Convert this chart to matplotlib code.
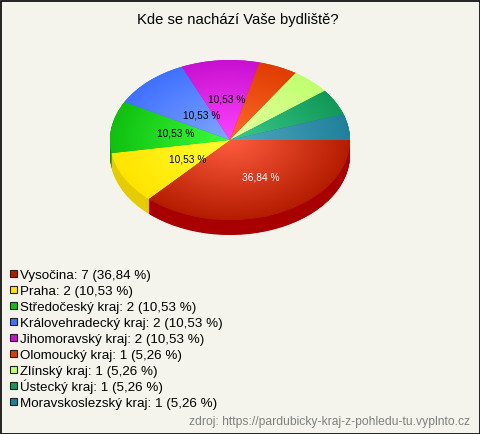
#!/usr/bin/env python
# -*- coding: utf-8 -*-

import matplotlib
matplotlib.use("Agg")
import matplotlib.pyplot as plt
from matplotlib.colors import LinearSegmentedColormap
from matplotlib.patches import Rectangle
import numpy as np

regions = ["Vysočina", "Praha", "Středočeský kraj", "Královehradecký kraj", "Jihomoravský kraj",
           "Olomoucký kraj", "Zlínský kraj", "Ústecký kraj", "Moravskoslezský kraj"]
counts = [7, 2, 2, 2, 2, 1, 1, 1, 1]
percents = ["36,84", "10,53", "10,53", "10,53", "10,53", "5,26", "5,26", "5,26", "5,26"]

inner_colors = ["#ff5c3e", "#ffff30", "#3cff3c", "#80a8ff", "#ff44ff", "#ff6a2c", "#e4ffa0", "#3cca8c", "#52a8c2"]
outer_colors = ["#b41c00", "#ffe400", "#10c010", "#4070ff", "#c810d0", "#e03c00", "#c0ff70", "#109858", "#20809a"]
side_colors = ["#a80000", "#e5cc00", "#0c8a0c", "#3058cc", "#a00ca6", "#b03000", "#98cc58", "#0c7a46", "#18667a"]

W, H = 480, 434
CX, CY, RX, RY, DEPTH = 230, 140, 120, 80, 15

plt.rcParams["font.family"] = ["Liberation Sans", "DejaVu Sans"]
BG = "#f4f4ec"

fig = plt.figure(figsize=(W / 100, H / 100), dpi=100, facecolor=BG)

# Pie axes: one data unit is RX px across and RY px down, so the circle turns into an ellipse.
ax = fig.add_axes([0, 0, 1, 1])

# Side of the pie, stacked layers of the same pie shifted down.
for d in np.arange(DEPTH, 0, -0.5):
    ax.pie(counts, colors=side_colors, center=(0, -d / RY), startangle=0, counterclock=False,
           radius=1, wedgeprops={"linewidth": 0})

# Top face with a radial gradient per slice.
wedges, _ = ax.pie(counts, colors=outer_colors, startangle=0, counterclock=False,
                   radius=1, wedgeprops={"linewidth": 0})
ax.set_aspect("auto")
ax.set_xlim(-CX / RX, (W - CX) / RX)
ax.set_ylim(-(H - CY) / RY, CY / RY)

gx, gy = np.meshgrid(np.linspace(-1.02, 1.02, 300), np.linspace(-1.02, 1.02, 300))
dist = np.clip(np.hypot(gx, gy), 0, 1)
for wedge, c0, c1 in zip(wedges, inner_colors, outer_colors):
    cmap = LinearSegmentedColormap.from_list("slice", [c0, c1])
    im = ax.imshow(dist, extent=(-1.02, 1.02, -1.02, 1.02), origin="lower", cmap=cmap,
                   vmin=0, vmax=1, aspect="auto", interpolation="bilinear", zorder=3)
    im.set_clip_path(wedge)
ax.set_xlim(-CX / RX, (W - CX) / RX)
ax.set_ylim(-(H - CY) / RY, CY / RY)
ax.axis("off")

# Overlay in pixel coordinates for the texts and the frame.
px = fig.add_axes([0, 0, 1, 1])
px.set_xlim(0, W)
px.set_ylim(H, 0)
px.axis("off")
px.patch.set_alpha(0)

px.text(237.5, 20, "Kde se nachází Vaše bydliště?", ha="center", va="center", fontsize=10.65, color="black")

# Slice labels.
label_pos = [(261, 177), (188, 160), (176, 133), (202, 116), (227, 99)]
for i, (lx, ly) in enumerate(label_pos):
    px.text(lx, ly, percents[i] + " %", ha="center", va="center", fontsize=7.3,
            color="white" if i == 0 else "black")

# Legend.
for i, (name, n, pct) in enumerate(zip(regions, counts, percents)):
    y = 274 + i * 16
    px.add_patch(Rectangle((9.5, y - 4), 7, 7, facecolor=outer_colors[i], edgecolor="#222222", linewidth=0.8))
    px.text(20, y + 4.5, f"{name}: {n} ({pct} %)", ha="left", va="baseline", fontsize=9.65, color="black")

px.text(470, 422, "zdroj: https://pardubicky-kraj-z-pohledu-tu.vyplnto.cz", ha="right", va="center",
        fontsize=8.7, color="#808080")

# Frame.
px.add_patch(Rectangle((0.5, 0.5), W - 1, H - 1, facecolor="none", edgecolor="black", linewidth=1.2))

plt.savefig("out.png", dpi=100, facecolor=BG)
